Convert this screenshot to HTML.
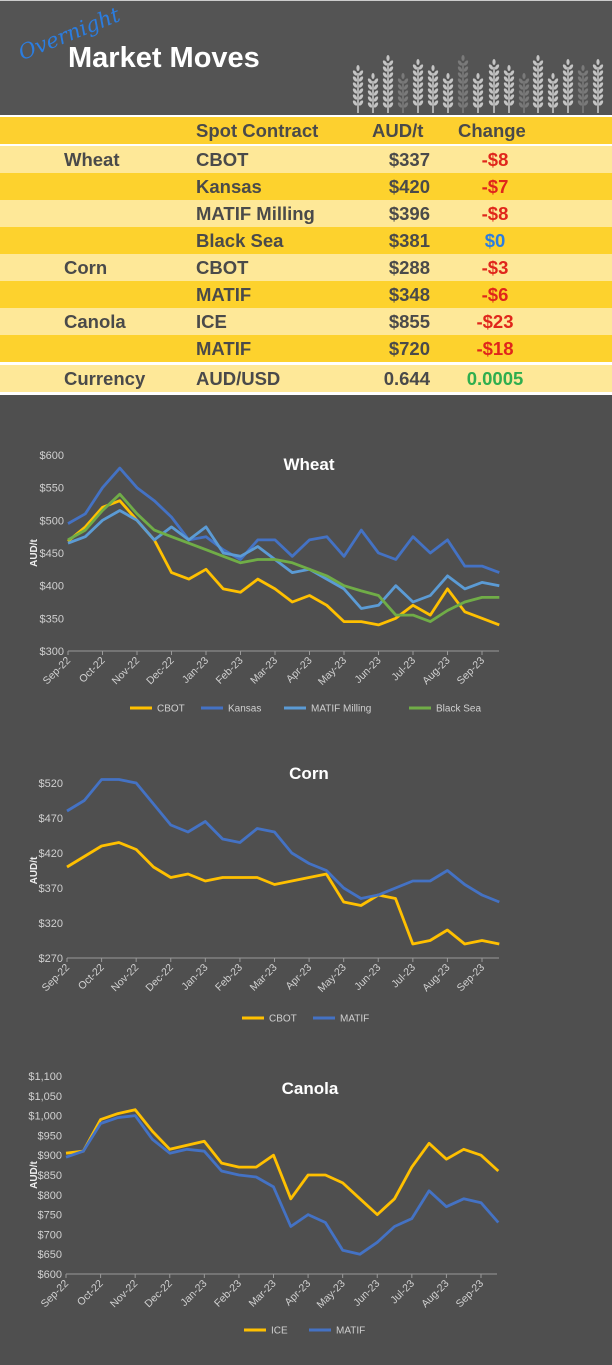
<!DOCTYPE html>
<html><head><meta charset="utf-8"><style>
body{margin:0;width:612px;height:1365px;background:#4f4f4f;overflow:hidden;font-family:"Liberation Sans",sans-serif}
#hdr{position:absolute;left:0;top:0;width:612px;height:115px;background:#545454;border-top:1px solid #ccc}
#tblbg{position:absolute;left:0;top:115px;width:612px;height:280px;background:#fff}
.row{position:absolute;left:0;width:612px;height:27px;font-weight:bold;font-size:18.5px;color:#4a4a4a}
.row span{position:absolute;top:3px}
</style></head><body>
<div id="hdr">
<div style="position:absolute;left:24px;top:40px;font-family:'DejaVu Serif',serif;font-style:italic;font-size:21px;color:#2b7de0;transform:rotate(-22deg);transform-origin:left bottom">Overnight</div>
<div style="position:absolute;left:68px;top:41px;font-size:29px;font-weight:bold;color:#fff">Market Moves</div>
<svg id="sprigs" width="612" height="115" style="position:absolute;left:0;top:0"></svg>
</div>
<div id="tblbg"></div>
<div id="table"></div>
<svg id="charts" width="612" height="1365" style="position:absolute;left:0;top:0;pointer-events:none"></svg>
<script>
const tCats=["Wheat","","","","Corn","","Canola","","Currency"];
const tContracts=["CBOT","Kansas","MATIF Milling","Black Sea","CBOT","MATIF","ICE","MATIF","AUD/USD"];
const tPrices=["$337","$420","$396","$381","$288","$348","$855","$720","0.644"];
const tChanges=["-$8","-$7","-$8","$0","-$3","-$6","-$23","-$18","0.0005"];
const tChgColors=["#e0261b","#e0261b","#e0261b","#2b7de0","#e0261b","#e0261b","#e0261b","#e0261b","#2fae4e"];
const tbl=document.getElementById('table');
function mkRow(top,bg,cells,name){
  const r=document.createElement('div');r.className='row';r.style.top=top+'px';r.style.background=bg;
  
  
  cells.forEach(c=>{const s=document.createElement('span');s.textContent=c[0];s.style.left=c[1]+'px';if(c[2])s.style.color=c[2];if(c[3])s.style.width=c[3]+'px',s.style.textAlign='right';if(c[4])s.style.width=c[4]+'px',s.style.textAlign='center';r.appendChild(s);});
  tbl.appendChild(r);
}
mkRow(117,'#fdd02f',[["Spot Contract",196],["AUD/t",372],["Change",458]],'table-header-row');
for(let i=0;i<9;i++){
  const top=i<8?146+i*27:365;
  const bg=i==8?'#fee898':(i%2==0?'#fee898':'#fdd22d');
  mkRow(top,bg,[[tCats[i],64],[tContracts[i],196],[tPrices[i],360,null,70],[tChanges[i],440,tChgColors[i],null,110]],'row-'+tContracts[i].toLowerCase().replace(/[^a-z]+/g,'-')+'-'+i);
}
const sp=document.getElementById('sprigs');const NS='http://www.w3.org/2000/svg';
const sprigX=[358,373,388,403,418,433,448,463,478,494,509,524,538,553,568,583,598];
const sprigTop=[72,80,62,80,66,72,80,62,80,66,72,80,62,80,66,72,66];
sprigX.forEach((x,i)=>{const dim=(i%4==3);const g=document.createElementNS(NS,'g');g.setAttribute('fill',dim?'#7a7a7a':'#c4c4c4');
 for(let y=sprigTop[i];y<106;y+=6){[-1,1].forEach(d=>{const e=document.createElementNS(NS,'ellipse');e.setAttribute('cx',x+d*3);e.setAttribute('cy',y);e.setAttribute('rx',1.6);e.setAttribute('ry',3);e.setAttribute('transform',`rotate(${d*35} ${x+d*3} ${y})`);g.appendChild(e);});}
 const tp=document.createElementNS(NS,'ellipse');tp.setAttribute('cx',x);tp.setAttribute('cy',sprigTop[i]-5);tp.setAttribute('rx',1.6);tp.setAttribute('ry',3);g.appendChild(tp);
 const st=document.createElementNS(NS,'rect');st.setAttribute('x',x-0.8);st.setAttribute('y',sprigTop[i]);st.setAttribute('width',1.6);st.setAttribute('height',112-sprigTop[i]);g.appendChild(st);sp.appendChild(g);});
const months=["Sep-22","Oct-22","Nov-22","Dec-22","Jan-23","Feb-23","Mar-23","Apr-23","May-23","Jun-23","Jul-23","Aug-23","Sep-23"];
const wheatCBOT=[468,490,520,530,500,470,420,410,425,395,390,410,395,375,385,370,345,345,340,350,370,355,395,360,350,340];
const wheatKansas=[495,510,550,580,550,530,505,470,475,455,440,470,470,445,470,475,445,485,450,440,475,450,470,430,430,420];
const wheatMATIF=[465,475,500,515,500,470,490,470,490,450,445,460,440,420,425,410,395,365,370,400,375,385,415,395,405,400];
const wheatBlackSea=[470,485,515,540,510,485,475,465,455,445,435,440,440,435,425,415,400,392,385,355,355,345,362,375,382,382];
const cornCBOT=[400,415,430,435,425,400,385,390,380,385,385,385,375,380,385,390,350,345,360,355,290,295,310,290,295,290];
const cornMATIF=[480,495,525,525,520,490,460,450,465,440,435,455,450,420,405,395,370,355,360,370,380,380,395,375,360,350];
const canolaICE=[905,910,990,1005,1015,960,915,925,935,880,870,870,900,790,850,850,830,790,750,790,870,930,890,915,900,860];
const canolaMATIF=[895,910,980,995,1000,940,905,915,910,860,850,845,820,720,750,730,660,650,680,720,740,810,770,790,780,730];
const wheatTicks=[300,350,400,450,500,550,600];
const cornTicks=[270,320,370,420,470,520];
const canolaTicks=[600,650,700,750,800,850,900,950,1000,1050,1100];
const C={yel:'#ffc000',blu:'#4472c4',lbl:'#5b9bd5',grn:'#70ad47'};
const svg=document.getElementById('charts');
function el(t,a,p){const e=document.createElementNS(NS,t);for(const k in a)e.setAttribute(k,a[k]);(p||svg).appendChild(e);return e;}
function chart(o){
  const g=el('g',{});
  const x0=o.x0,x12=o.x12,x1=o.x1;const xs=m=>x0+(x12-x0)*m/12;
  const ys=v=>o.yb+(o.yt-o.yb)*(v-o.min)/(o.max-o.min);
  el('line',{x1:x0,x2:x1,y1:o.yb,y2:o.yb,stroke:'#999','stroke-width':1},g);
  o.ticks.forEach(v=>{const t=el('text',{x:x0-4,y:ys(v)+4,'text-anchor':'end','font-size':11,fill:'#d0d0d0'},g);t.textContent='$'+v.toLocaleString('en-US');});
  months.forEach((m,i)=>{const x=xs(i);el('line',{x1:x,x2:x,y1:o.yb,y2:o.yb+4,stroke:'#999'},g);
    const t=el('text',{x:x+3,y:o.yb+10,'text-anchor':'end','font-size':10.5,fill:'#d0d0d0',transform:`rotate(-45 ${x+3} ${o.yb+10})`},g);t.textContent=m;});
  const at=el('text',{x:0,y:0,'font-size':10,'font-weight':'bold',fill:'#eee','text-anchor':'middle',transform:`translate(37 ${(o.yt+o.yb)/2}) rotate(-90)`},g);at.textContent='AUD/t';
  const tt=el('text',{x:o.tx,y:o.ty,'font-size':17,'font-weight':'bold',fill:'#fff','text-anchor':'middle'},g);tt.textContent=o.title;
  o.series.forEach(s=>{
    const pts=s.d.map((v,i)=>xs(Math.min(i*0.5,12.5)).toFixed(1)+','+ys(v).toFixed(1)).join(' ');
    const pl=el('polyline',{points:pts,fill:'none',stroke:s.c,'stroke-width':2.8,'stroke-linejoin':'round'},g);
    
    
  });
  let lx=o.lx;o.series.forEach(s=>{el('line',{x1:lx,x2:lx+22,y1:o.ly,y2:o.ly,stroke:s.c,'stroke-width':3},g);
    const t=el('text',{x:lx+27,y:o.ly+3.5,'font-size':10,fill:'#d0d0d0'},g);t.textContent=s.n;
    
    
    lx+=27+s.n.length*6+20;});
}
chart({name:'wheat-chart',title:'Wheat',tx:309,ty:470,x0:68,x12:482,x1:499,yt:455,yb:651,min:300,max:600,ticks:wheatTicks,lx:130,ly:708,
 series:[{n:'CBOT',c:C.yel,d:wheatCBOT},{n:'Kansas',c:C.blu,d:wheatKansas},{n:'MATIF Milling',c:C.lbl,d:wheatMATIF},{n:'Black Sea',c:C.grn,d:wheatBlackSea}]});
chart({name:'corn-chart',title:'Corn',tx:309,ty:779,x0:67,x12:482,x1:499,yt:783,yb:958,min:270,max:520,ticks:cornTicks,lx:242,ly:1018,
 series:[{n:'CBOT',c:C.yel,d:cornCBOT},{n:'MATIF',c:C.blu,d:cornMATIF}]});
chart({name:'canola-chart',title:'Canola',tx:310,ty:1094,x0:66,x12:481,x1:497,yt:1076,yb:1274,min:600,max:1100,ticks:canolaTicks,lx:244,ly:1330,
 series:[{n:'ICE',c:C.yel,d:canolaICE},{n:'MATIF',c:C.blu,d:canolaMATIF}]});
</script>
</body></html>
